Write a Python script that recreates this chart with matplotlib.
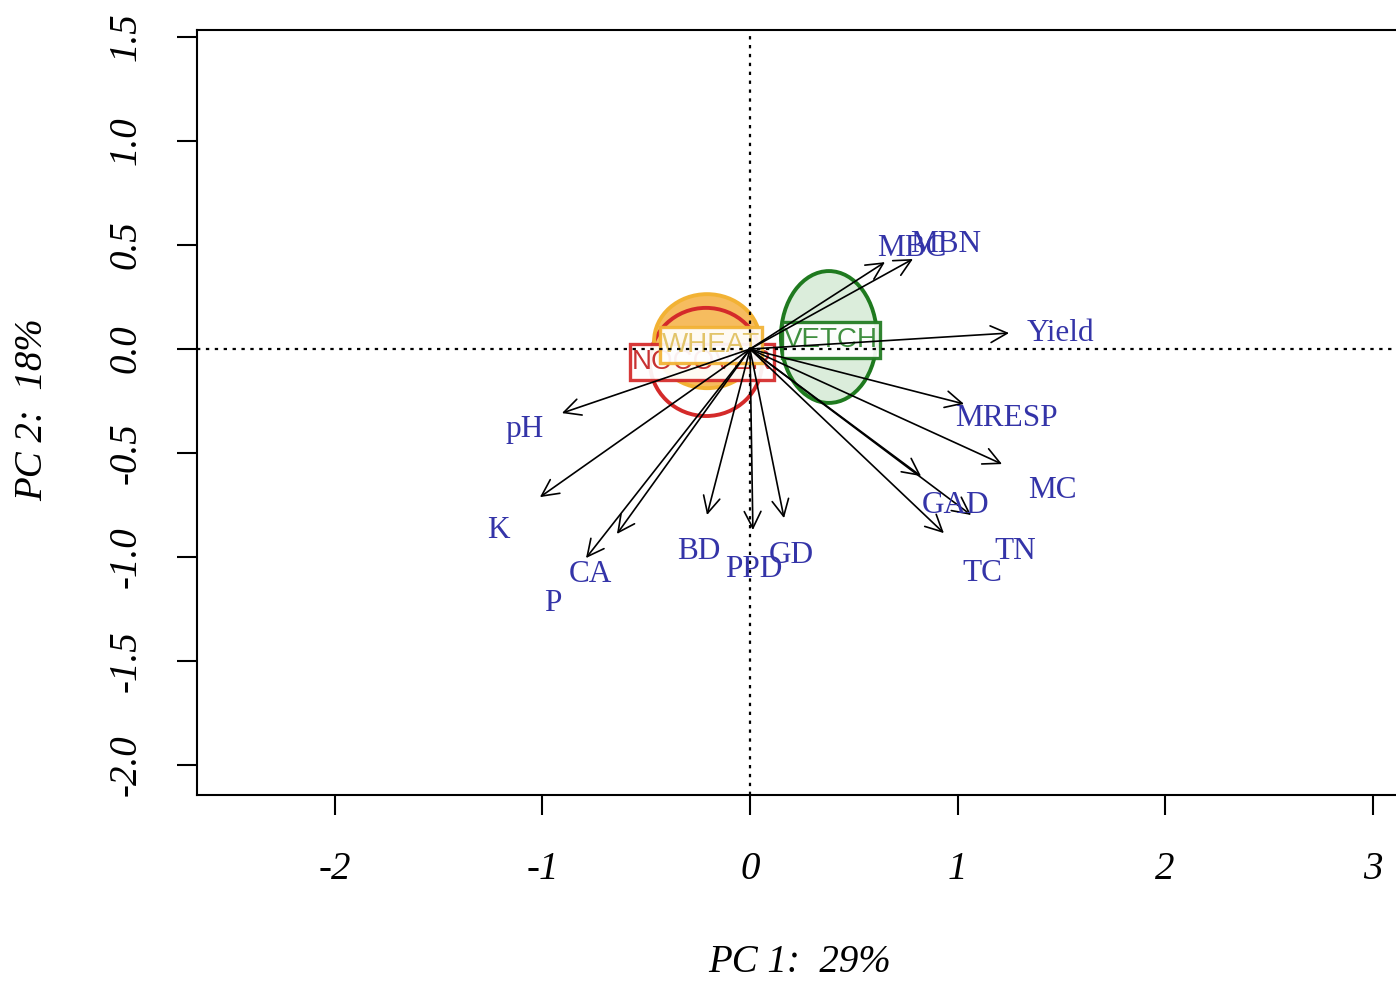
""" import necessary packages """
import numpy as np
import matplotlib.pyplot as plt
from matplotlib.patches import Ellipse, Rectangle

''' data read off the biplot '''
var_names = ['pH', 'K', 'P', 'CA', 'BD', 'PPD', 'GD', 'GAD', 'TC', 'TN',
             'MC', 'MRESP', 'Yield', 'MBC', 'MBN']
load_pc1 = [-0.906, -1.012, -0.790, -0.641, -0.207, 0.014, 0.164, 0.824,
            0.934, 1.065, 1.214, 1.031, 1.248, 0.650, 0.785]
load_pc2 = [-0.308, -0.712, -1.005, -0.889, -0.798, -0.870, -0.813, -0.611,
            -0.885, -0.798, -0.553, -0.264, 0.077, 0.418, 0.433]
label_scale = 1.2

groups = ['NOCOVER', 'WHEAT', 'VETCH']
group_x = [-0.212, -0.207, 0.38]
group_y = [-0.062, 0.038, 0.058]
group_w = [0.27, 0.255, 0.231]   # ellipse half widths
group_h = [0.26, 0.226, 0.317]   # ellipse half heights
label_x = [-0.231, -0.188, 0.39]
label_y = [-0.060, 0.018, 0.043]

edge_cols = ['#d42a2a', '#f2b234', '#1f7a1f']
fill_cols = ['none', '#f4a62a', '#cfe8cf']
text_cols = ['#c83232', '#e2c46a', '#3f8f3f']

x_ticks = [-2, -1, 0, 1, 2, 3]
y_ticks = [-2.0, -1.5, -1.0, -0.5, 0.0, 0.5, 1.0, 1.5]

''' figure setup '''
fig = plt.figure(figsize=(13.96, 9.84), dpi=100)
ax = fig.add_axes([0.1411, 0.1921, 0.872, 0.7774])
ax.set_xlim(-2.664, 3.2)
ax.set_ylim(-2.144, 1.534)

serif = 'Liberation Serif'

# ellipses
for i in range(len(groups)):
    if fill_cols[i] != 'none':
        ax.add_patch(Ellipse((group_x[i], group_y[i]), 2 * group_w[i], 2 * group_h[i],
                             facecolor=fill_cols[i], edgecolor='none', alpha=0.75, zorder=2))
    ax.add_patch(Ellipse((group_x[i], group_y[i]), 2 * group_w[i], 2 * group_h[i],
                         facecolor='none', edgecolor=edge_cols[i], lw=2.8, zorder=3))

# group labels in boxes (box drawn from the text extent, taller than the text)
fig.canvas.draw()
inv = ax.transData.inverted()
for i in range(len(groups)):
    t = ax.text(label_x[i], label_y[i], groups[i], color=text_cols[i], fontsize=20,
                family='Liberation Sans', ha='center', va='center', zorder=4.5 + i)
    bb = t.get_window_extent(renderer=fig.canvas.get_renderer())
    (x0, y0), (x1, y1) = inv.transform([(bb.x0 - 2, bb.y0 - 5), (bb.x1 + 2, bb.y1 + 5)])
    ax.add_patch(Rectangle((x0, y0), x1 - x0, y1 - y0, facecolor='white', alpha=0.93,
                           edgecolor=edge_cols[i], lw=2.4, zorder=4 + i))

# dotted zero lines
ax.axhline(0, color='black', ls=(0, (1.5, 2.5)), lw=1.6, zorder=7)
ax.axvline(0, color='black', ls=(0, (1.5, 2.5)), lw=1.6, zorder=7)

''' variable arrows '''
for name, px, py in zip(var_names, load_pc1, load_pc2):
    ax.annotate('', xy=(px, py), xytext=(0, 0),
                arrowprops=dict(arrowstyle='->', color='black', lw=1.2,
                                mutation_scale=30, shrinkA=0, shrinkB=0),
                zorder=8)
    ax.text(px * label_scale, py * label_scale, name, color='#3434a8', fontsize=22.5,
            family=serif, ha='center', va='center_baseline', zorder=9)

''' axes styling '''
for sp in ax.spines.values():
    sp.set_linewidth(1.5)
ax.set_xticks(x_ticks)
ax.set_xticklabels([str(t) for t in x_ticks], fontsize=28, family=serif, style='italic')
ax.set_yticks(y_ticks)
ax.set_yticklabels(['%.1f' % t for t in y_ticks], fontsize=28, family=serif,
                   style='italic', rotation=90, va='center')
ax.tick_params(axis='both', direction='out', length=14.5, width=1.5, color='black')
ax.tick_params(axis='x', pad=26)
ax.tick_params(axis='y', pad=23)

fig.text(800 / 1396, 1 - 963 / 984, 'PC 1:  29%', fontsize=28, family=serif,
         style='italic', ha='center', va='center')
fig.text(33 / 1396, 1 - 410 / 984, 'PC 2:  18%', fontsize=28, family=serif,
         style='italic', ha='center', va='center', rotation=90)

fig.savefig('out.png', dpi=100)
